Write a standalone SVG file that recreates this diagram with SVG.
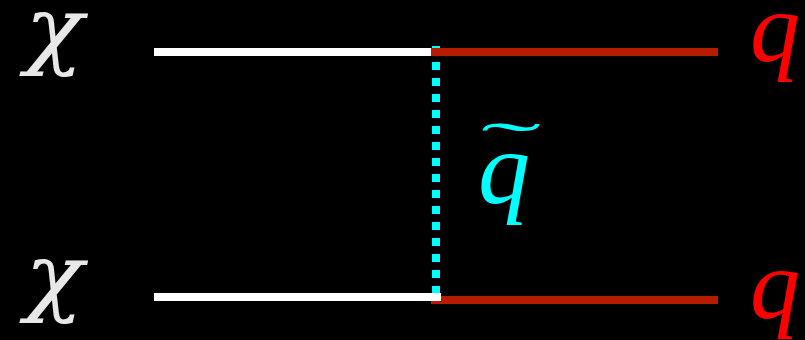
<svg xmlns="http://www.w3.org/2000/svg" width="805" height="340" viewBox="0 0 805 340">
<style>
.chi{font-family:"DejaVu Serif","Liberation Serif",serif;font-style:italic;font-size:86px;fill:#e8e8e8}
.q{font-family:"Liberation Serif","DejaVu Serif",serif;font-style:italic;font-size:100px;fill:#ff0000}
.sq{font-family:"Liberation Serif","DejaVu Serif",serif;font-style:italic;font-size:104px;fill:#00ffff}
.tl{font-family:"Liberation Serif","DejaVu Serif",serif;font-size:100px;fill:#00ffff}
.w{stroke:#ffffff;stroke-width:8}
.r{stroke:#b81c00;stroke-width:8}
.d{stroke:#00ffff;stroke-width:8;stroke-dasharray:8 8}
</style>
<rect x="0" y="0" width="805" height="340" fill="#000"/>
<g id="connectors">
<line class="d" x1="436" y1="46" x2="436" y2="294"/>
<line class="r" x1="431" y1="52" x2="718" y2="52"/>
<line class="w" x1="154" y1="52" x2="431" y2="52"/>
<line class="r" x1="431" y1="300" x2="718" y2="300"/>
<line class="w" x1="154" y1="297" x2="441" y2="297"/>
</g>
<g id="chi1"><text class="chi" transform="translate(25,58) scale(1.12,1)">χ</text></g>
<g id="chi2"><text class="chi" transform="translate(25,305) scale(1.12,1)">χ</text></g>
<g id="q1"><text class="q" x="750" y="61">q</text></g>
<g id="q2"><text class="q" x="750" y="318">q</text></g>
<g id="sq"><text class="sq" x="478" y="203">q</text><text class="tl" transform="translate(481,163) scale(1.8,0.6)">˜</text></g>
</svg>
